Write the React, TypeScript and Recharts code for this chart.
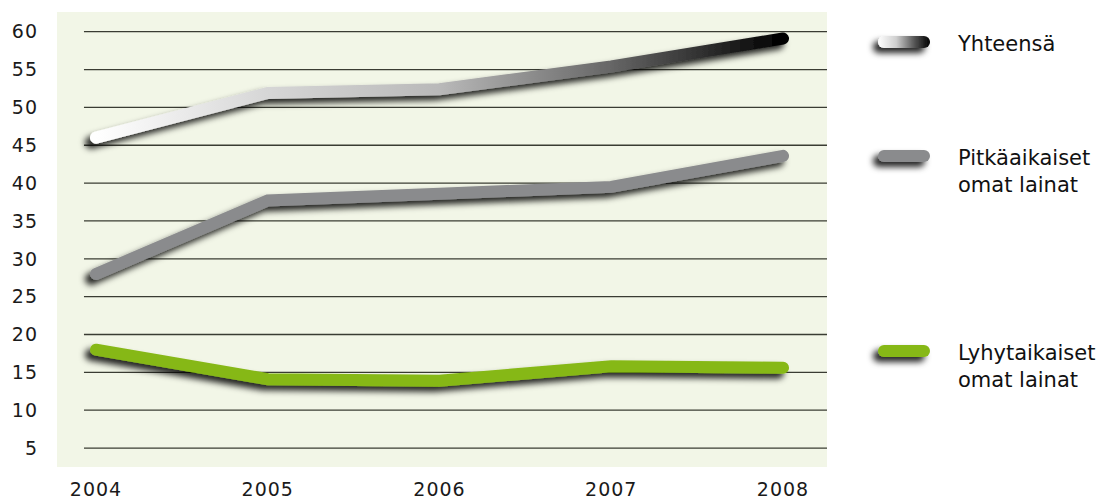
import React from "react";
import { LineChart, Line, XAxis, YAxis, CartesianGrid, ReferenceLine, Legend } from "recharts";

const years = [2004, 2005, 2006, 2007, 2008];
const yhteensa = [46.0, 51.9, 52.4, 55.4, 59.1];
const pitkaaikaiset = [28.0, 37.7, 38.6, 39.5, 43.6];
const lyhytaikaiset = [18.0, 14.1, 13.9, 15.8, 15.6];
const yTicks = [5, 10, 15, 20, 25, 30, 35, 40, 45, 50, 55, 60];

const seriesNames = ["Yhteensä", "Pitkäaikaiset\nomat lainat", "Lyhytaikaiset\nomat lainat"];

const data = years.map((year, i) => ({
  year,
  total: yhteensa[i],
  long: pitkaaikaiset[i],
  short: lyhytaikaiset[i],
}));

const FONT = "'DejaVu Sans', sans-serif";
const X_DOMAIN: [number, number] = [2003.773, 2008.256];

// legend rows: swatch fill + vertical offset inside legend box
const legendRows = [
  { name: seriesNames[0], fill: "url(#legendGrad)", top: 30 },
  { name: seriesNames[1], fill: "#8a8b8d", top: 144 },
  { name: seriesNames[2], fill: "#86b817", top: 339 },
];

function LegendBox() {
  return (
    <div style={{ position: "relative", width: 229, height: 420, fontFamily: FONT, fontSize: 21, color: "#111" }}>
      {legendRows.map((row, i) => (
        <div key={i} style={{ position: "absolute", left: 0, top: row.top }}>
          <svg width={70} height={30} style={{ position: "absolute", left: 0, top: 0, overflow: "visible" }}>
            <defs>
              <linearGradient id="legendGrad" x1="0" y1="0" x2="1" y2="0">
                <stop offset="0" stopColor="#ffffff" />
                <stop offset="0.35" stopColor="#cfcfcf" />
                <stop offset="0.7" stopColor="#555" />
                <stop offset="1" stopColor="#000" />
              </linearGradient>
              <filter id={`legendShadow${i}`} x="-50%" y="-100%" width="200%" height="400%">
                <feDropShadow dx={-5} dy={5} stdDeviation={3} floodColor="#000" floodOpacity={0.85} />
              </filter>
            </defs>
            <rect x={8} y={6} width={52} height={12} rx={6} fill={row.fill} filter={`url(#legendShadow${i})`} />
          </svg>
          <div style={{ position: "absolute", left: 88, top: 1, whiteSpace: "pre", lineHeight: "27px" }}>{row.name}</div>
        </div>
      ))}
    </div>
  );
}

export default function App() {
  return (
    <div style={{ position: "absolute", left: 0, top: 0 }}>
      <LineChart width={1099} height={499} data={data} margin={{ top: 12, right: 43, left: 0, bottom: 2 }}>
        <defs>
          <linearGradient id="totalGrad" x1="0" y1="0" x2="1" y2="0">
            <stop offset="0" stopColor="#ffffff" />
            <stop offset="0.25" stopColor="#d6d6d6" />
            <stop offset="0.5" stopColor="#b9b9b9" />
            <stop offset="0.75" stopColor="#666666" />
            <stop offset="1" stopColor="#000000" />
          </linearGradient>
          <filter id="lineShadow" filterUnits="userSpaceOnUse" x={0} y={0} width={1099} height={499}>
            <feDropShadow dx={-5} dy={5} stdDeviation={3} floodColor="#000" floodOpacity={0.85} />
          </filter>
        </defs>
        <CartesianGrid fill="#f2f6e7" horizontal={false} vertical={false} />
        {yTicks.map((v) => (
          <ReferenceLine
            key={v}
            segment={[{ x: 2003.93, y: v }, { x: X_DOMAIN[1], y: v }]}
            stroke="#3a3c33"
            strokeWidth={1.3}
          />
        ))}
        <XAxis
          dataKey="year"
          type="number"
          domain={X_DOMAIN}
          ticks={years}
          allowDataOverflow
          axisLine={false}
          tickLine={false}
          tickSize={0}
          tickMargin={16}
          height={30}
          tick={{ fontSize: 19, fill: "#1a1a1a", fontFamily: FONT, letterSpacing: 1 }}
        />
        <YAxis
          type="number"
          domain={[2.5, 62.6]}
          ticks={yTicks}
          allowDataOverflow
          axisLine={false}
          tickLine={false}
          tickSize={0}
          tickMargin={19}
          width={57}
          tick={{ fontSize: 19, fill: "#1a1a1a", fontFamily: FONT, letterSpacing: 1 }}
        />
        <Legend
          layout="vertical"
          align="right"
          verticalAlign="top"
          wrapperStyle={{ left: 870, top: 0, width: 229 }}
          content={() => <LegendBox />}
        />
        <Line
          dataKey="short"
          name={seriesNames[2]}
          stroke="#86b817"
          strokeWidth={12}
          strokeLinecap="round"
          strokeLinejoin="miter"
          filter="url(#lineShadow)"
          dot={false}
          activeDot={false}
          isAnimationActive={false}
        />
        <Line
          dataKey="long"
          name={seriesNames[1]}
          stroke="#8a8b8d"
          strokeWidth={12}
          strokeLinecap="round"
          strokeLinejoin="miter"
          filter="url(#lineShadow)"
          dot={false}
          activeDot={false}
          isAnimationActive={false}
        />
        <Line
          dataKey="total"
          name={seriesNames[0]}
          stroke="url(#totalGrad)"
          strokeWidth={12}
          strokeLinecap="round"
          strokeLinejoin="miter"
          filter="url(#lineShadow)"
          dot={false}
          activeDot={false}
          isAnimationActive={false}
        />
      </LineChart>
    </div>
  );
}
